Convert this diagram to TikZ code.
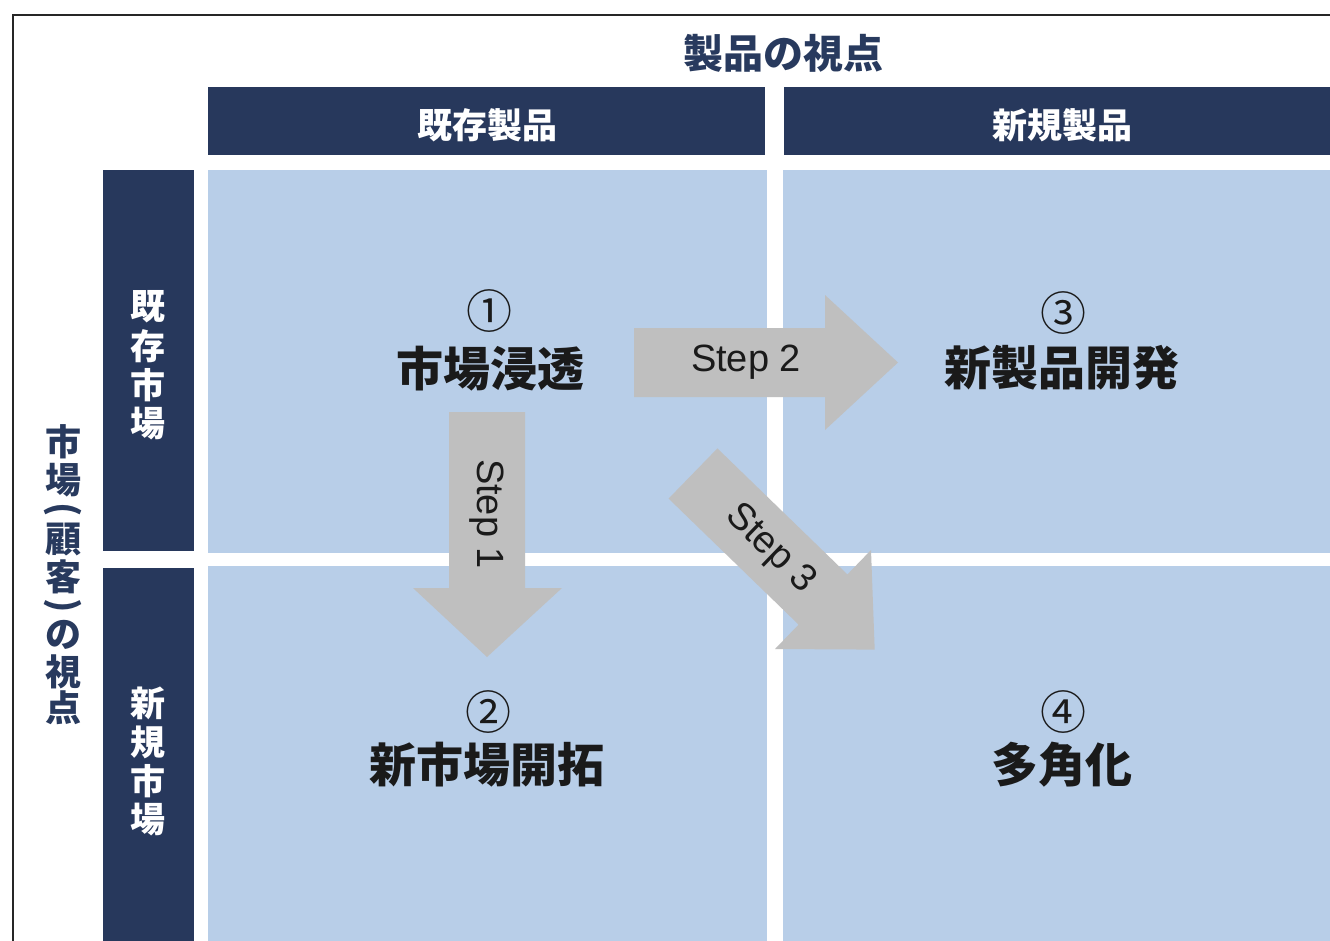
\documentclass[tikz,border=0pt]{standalone}
\usepackage{fontspec}
\setmainfont{Liberation Sans}
\newfontfamily\jp{Noto Sans CJK JP}
\definecolor{navy}{RGB}{39,56,92}
\definecolor{cellblue}{RGB}{184,206,232}
\definecolor{arrowgray}{RGB}{191,191,191}
\definecolor{inkdark}{RGB}{26,26,26}
\definecolor{titlenavy}{RGB}{40,58,94}
\begin{document}
\begin{tikzpicture}[x=1pt,y=-1pt,
  panel/.style={inner sep=0pt, outer sep=0pt, anchor=north west, draw=none},
  hdrpanel/.style={panel, fill=navy},
  cellpanel/.style={panel, fill=cellblue},
  bigarrow/.style={fill=arrowgray, draw=none},
  titlelab/.style={inner sep=0pt, text=titlenavy, font=\jp\bfseries\fontsize{40}{40}\selectfont},
  sidelab/.style={inner sep=0pt, text=titlenavy, font=\jp\bfseries\fontsize{36}{36}\selectfont},
  hdrlab/.style={inner sep=0pt, text=white, font=\jp\bfseries\fontsize{35}{35}\selectfont},
  numlab/.style={inner sep=0pt, text=inkdark, font=\jp\fontsize{46}{46}\selectfont},
  celllab/.style={inner sep=0pt, text=inkdark, font=\jp\bfseries\fontsize{47}{47}\selectfont},
  steplab/.style={inner sep=0pt, text=inkdark, font=\fontsize{38}{38}\selectfont}]
\useasboundingbox (0,0) rectangle (1330,940);
\clip (0,0) rectangle (1330,940);
\fill[white] (0,0) rectangle (1330,940);

% frame
\draw[line width=1.6pt, black!85] (13,950) -- (13,15) -- (1340,15);

% header panels
\node[hdrpanel, minimum width=557, minimum height=68] (hp1) at (208,87) {};
\node[hdrpanel, minimum width=560, minimum height=68] (hp2) at (784,87) {};
\node[hdrpanel, minimum width=91, minimum height=381] (hm1) at (103,170) {};
\node[hdrpanel, minimum width=91, minimum height=380] (hm2) at (103,568) {};

% cells
\node[cellpanel, minimum width=559, minimum height=383] (c1) at (208,170) {};
\node[cellpanel, minimum width=560, minimum height=383] (c3) at (783,170) {};
\node[cellpanel, minimum width=559, minimum height=380] (c2) at (208,566) {};
\node[cellpanel, minimum width=560, minimum height=380] (c4) at (783,566) {};

% titles
\node[titlelab] (title) at (783,53) {製品の視点};
\node[hdrlab] (h1t) at (487,125) {既存製品};
\node[hdrlab] (h2t) at (1062,125) {新規製品};

\foreach \ch/\yy [count=\i] in {既/307, 存/346, 市/385, 場/424}
  \node[hdrlab] (va\i) at (148,\yy) {\ch};
\foreach \ch/\yy [count=\i] in {新/703, 規/742, 市/781, 場/820}
  \node[hdrlab] (vb\i) at (148,\yy) {\ch};

\foreach \ch/\yy [count=\i] in {市/442, 場/480, 顧/539, 客/577, の/635, 視/672, 点/708}
  \node[sidelab] (vt\i) at (63,\yy) {\ch};
\node[sidelab, rotate=-90] (vto) at (63,510) {(};
\node[sidelab, rotate=-90] (vtc) at (63,606) {)};

% arrows
\fill[bigarrow] (634,328) -- (825,328) -- (825,295) -- (898,362.5) -- (825,430) -- (825,397) -- (634,397) -- cycle;
\fill[bigarrow] (449,412) -- (525,412) -- (525,588) -- (562,588) -- (487,657) -- (413,588) -- (449,588) -- cycle;
\fill[bigarrow] (717.4,448.4) -- (847.4,574.4) -- (871,550) -- (874.7,649.6) -- (775,649) -- (798.6,624.6) -- (668.6,498.6) -- cycle;

% cell labels
\node[numlab] (n1) at (489,311) {①};
\node[celllab] (l1) at (490,369) {市場浸透};
\node[numlab] (n3) at (1063,313) {③};
\node[celllab] (l3) at (1062,368) {新製品開発};
\node[numlab] (n2) at (488,712) {②};
\node[celllab] (l2) at (487,765) {新市場開拓};
\node[numlab] (n4) at (1063,712) {④};
\node[celllab] (l4) at (1062,765) {多角化};

% step labels
\node[steplab, rotate=-90] (s1) at (487,514) {Step 1};
\node[steplab] (s2) at (746,362) {Step 2};
\node[steplab, rotate=-44] (s3) at (770,549) {Step 3};
\end{tikzpicture}
\end{document}
